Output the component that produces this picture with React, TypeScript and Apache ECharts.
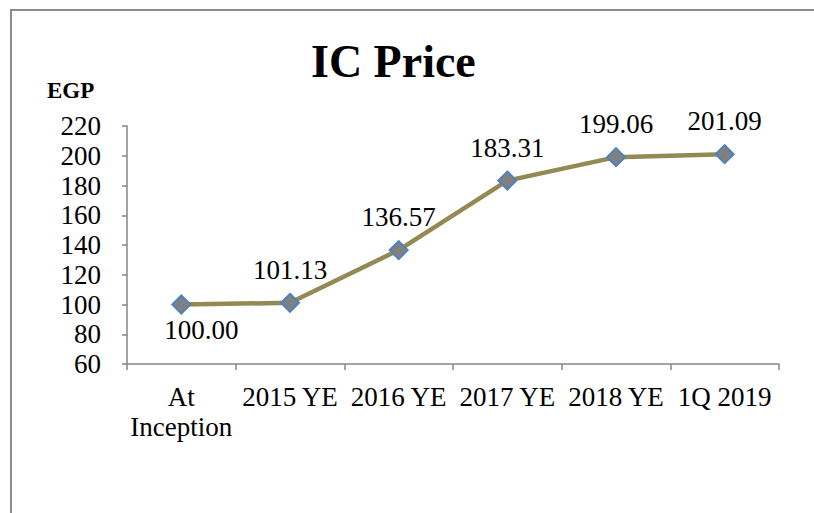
import React, { useEffect, useRef } from "react";
import * as echarts from "echarts";

const categories = ["At\nInception", "2015 YE", "2016 YE", "2017 YE", "2018 YE", "1Q 2019"];
const priceValues = [100.0, 101.13, 136.57, 183.31, 199.06, 201.09];
const titleText = "IC Price";
const unitText = "EGP";

const FONT = "'Liberation Serif', 'DejaVu Serif', serif";

export default function App() {
  const ref = useRef<HTMLDivElement>(null);
  useEffect(() => {
    if (!ref.current) return;
    const chart = echarts.init(ref.current, null, { renderer: "svg" });
    chart.setOption({
      animation: false,
      backgroundColor: "#ffffff",
      textStyle: { fontFamily: FONT },
      title: {
        text: titleText,
        left: 306,
        top: 33,
        textStyle: { fontFamily: FONT, fontSize: 46, fontWeight: "bold", color: "#000" },
      },
      graphic: [
        {
          type: "rect",
          shape: { x: 11, y: 10, width: 900, height: 600 },
          style: { fill: "none", stroke: "#8c8c8c", lineWidth: 2 },
          silent: true,
        },
        {
          type: "text",
          left: 47,
          top: 79,
          style: { text: unitText, font: `bold 23px ${FONT}`, fill: "#000" },
        },
      ],
      grid: { left: 127, top: 126, width: 652, height: 238, containLabel: false },
      xAxis: {
        type: "category",
        data: categories,
        boundaryGap: true,
        axisLine: { lineStyle: { color: "#868686", width: 1.5 } },
        axisTick: { show: true, length: 6, interval: 0, lineStyle: { color: "#868686", width: 1.5 } },
        axisLabel: {
          interval: 0,
          margin: 18,
          fontFamily: FONT,
          fontSize: 27,
          lineHeight: 30,
          color: "#000",
        },
      },
      yAxis: {
        type: "value",
        min: 60,
        max: 220,
        interval: 20,
        splitLine: { show: false },
        axisLine: { show: true, lineStyle: { color: "#868686", width: 1.5 } },
        axisTick: { show: true, length: 5, lineStyle: { color: "#868686", width: 1.5 } },
        axisLabel: { margin: 26, fontFamily: FONT, fontSize: 27, color: "#000" },
      },
      series: [
        {
          type: "line",
          data: priceValues.map((v, i) =>
            i === 0
              ? { value: v, label: { position: "bottom", distance: 0, offset: [20, 0] } }
              : { value: v }
          ),
          symbol: "diamond",
          symbolSize: 18,
          lineStyle: { color: "#938953", width: 4.5 },
          itemStyle: { color: "#808080", borderColor: "#4F81BD", borderWidth: 2 },
          label: {
            show: true,
            position: "top",
            distance: 8,
            formatter: (p: any) => Number(p.value).toFixed(2),
            fontFamily: FONT,
            fontSize: 27,
            lineHeight: 30,
            color: "#000",
          },
        },
      ],
    });
    return () => chart.dispose();
  }, []);
  return (
    <div
      ref={ref}
      style={{ position: "absolute", left: 0, top: 0, width: 814, height: 513 }}
    />
  );
}
